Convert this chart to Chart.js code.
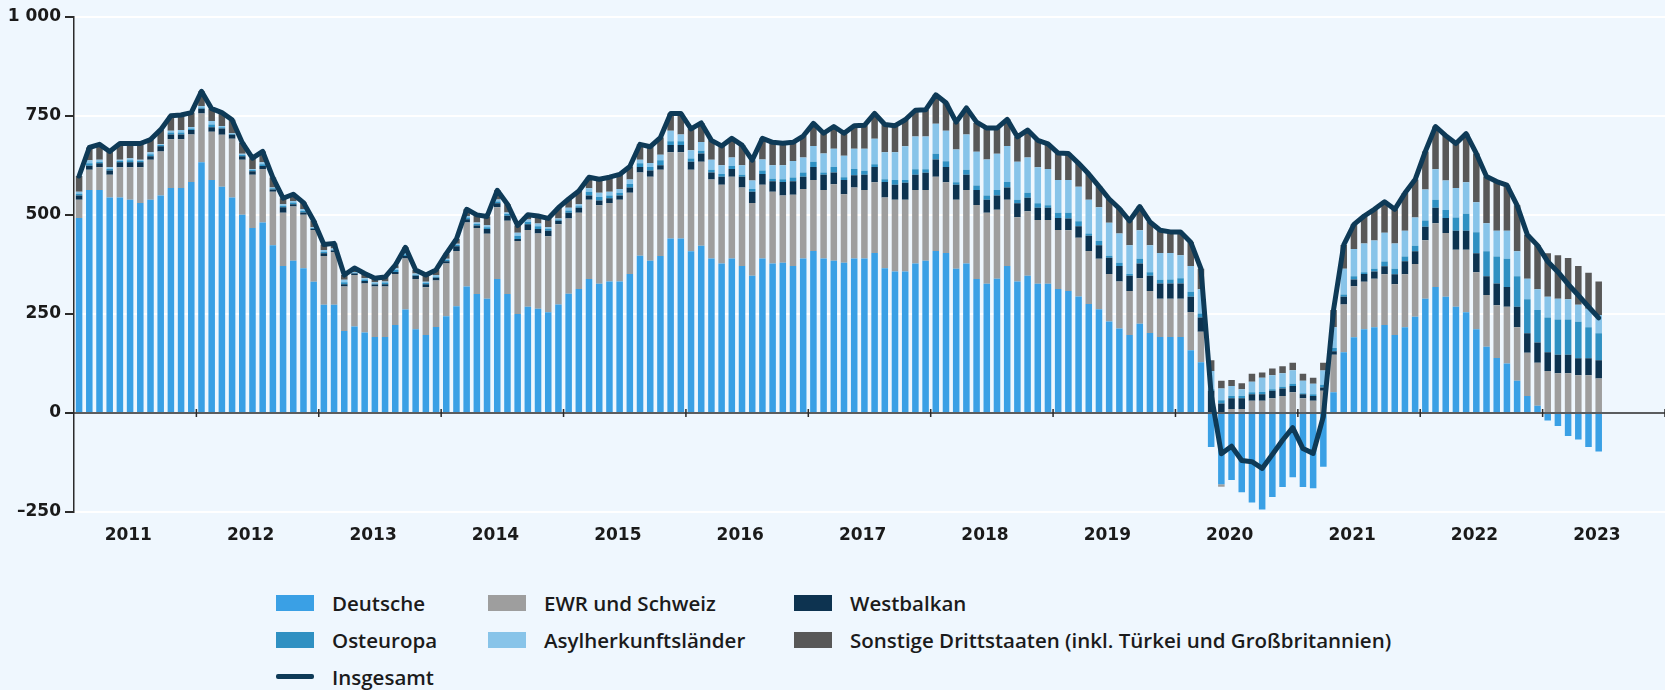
<!DOCTYPE html>
<html lang="de">
<head>
<meta charset="utf-8">
<title>Beschäftigung nach Staatsangehörigkeit</title>
<script src="https://cdn.jsdelivr.net/npm/chart.js@4/dist/chart.umd.min.js"></script>
<style>
  html, body { margin: 0; padding: 0; background: #eff7fe; }
  body { width: 1665px; height: 690px; overflow: hidden; position: relative; font-family: 'Open Sans', sans-serif; }
  #wrap { position: absolute; left: 0; top: 0; width: 1665px; height: 560px; }
  #legend { position: absolute; left: 276px; top: 584px; display: grid; grid-template-columns: 212px 306px auto; grid-auto-rows: 37px; }
  .item { display: flex; align-items: center; font-size: 20.5px; font-weight: 600; color: #1b1b1b; white-space: nowrap; }
  .swatch { width: 38px; height: 16px; margin-right: 18px; flex: none; }
  .swatch.line { height: 5px; border-radius: 2px; }
</style>
</head>
<body>
<div id="wrap"><canvas id="chart"></canvas></div>
<div id="legend"></div>
<script>
// Jahre auf der x-Achse (monatliche Werte, Jan 2011 bis Jun 2023)
const years = ['2011', '2012', '2013', '2014', '2015', '2016', '2017', '2018', '2019', '2020', '2021', '2022', '2023'];

const deutsche = [
  492, 563, 563, 544, 544, 538, 530, 538, 549, 568, 568, 583,
  633, 588, 571, 544, 500, 467, 481, 423, 371, 384, 365, 331,
  273, 273, 207, 218, 203, 192, 192, 222, 261, 211, 197, 217,
  244, 269, 319, 300, 288, 338, 300, 250, 268, 263, 254, 274,
  301, 313, 338, 326, 332, 332, 351, 397, 384, 396, 440, 440,
  408, 422, 390, 377, 390, 371, 346, 390, 377, 379, 371, 390,
  409, 390, 384, 379, 390, 390, 404, 365, 357, 357, 377, 384,
  409, 404, 364, 377, 338, 326, 339, 371, 332, 346, 326, 326,
  313, 308, 294, 275, 262, 231, 213, 197, 225, 202, 192, 192,
  192, 158, 128, -86, -180, -169, -200, -226, -244, -212, -187, -162,
  -187, -190, -136, 52, 153, 191, 211, 216, 222, 197, 216, 243,
  288, 318, 293, 268, 254, 211, 167, 139, 125, 81, 43, 18,
  -19, -33, -58, -67, -86, -97
];

const ewr = [
  46, 51, 57, 57, 76, 82, 90, 101, 111, 123, 123, 120,
  123, 122, 131, 148, 139, 134, 135, 135, 134, 137, 135, 131,
  123, 133, 112, 130, 124, 127, 127, 129, 129, 127, 120, 117,
  133, 140, 162, 167, 164, 181, 185, 184, 194, 190, 192, 202,
  190, 192, 200, 198, 198, 206, 205, 210, 212, 218, 218, 218,
  206, 212, 199, 199, 206, 198, 184, 186, 181, 170, 180, 175,
  179, 173, 193, 173, 179, 173, 178, 179, 181, 181, 186, 179,
  187, 178, 174, 186, 187, 179, 174, 167, 162, 163, 161, 161,
  149, 153, 148, 134, 127, 120, 119, 111, 115, 106, 96, 96,
  96, 97, 77, 0, -6, 10, 10, 31, 31, 37, 43, 52,
  37, 31, 56, 95, 121, 129, 120, 123, 128, 128, 134, 133,
  148, 161, 161, 144, 158, 144, 131, 133, 143, 135, 109, 109,
  106, 100, 100, 95, 95, 87
];

const westbalkan = [
  11, 10, 10, 11, 13, 13, 13, 9, 13, 12, 12, 11,
  12, 11, 16, 10, 9, 9, 7, 6, 14, 6, 6, 3,
  7, 4, 6, 4, 6, 5, 6, 5, 6, 8, 8, 7,
  6, 12, 8, 6, 12, 10, 13, 5, 14, 11, 14, 9,
  14, 13, 11, 12, 12, 11, 13, 14, 16, 11, 18, 18,
  20, 21, 18, 20, 20, 27, 28, 27, 27, 34, 34, 31,
  33, 38, 30, 36, 31, 38, 39, 39, 38, 43, 38, 43,
  44, 39, 38, 38, 38, 33, 36, 31, 35, 34, 31, 31,
  30, 30, 29, 38, 34, 41, 39, 38, 37, 38, 39, 39,
  39, 38, 36, 56, 24, 27, 27, 16, 16, 19, 19, 16,
  10, 12, 8, 9, 19, 17, 20, 18, 20, 25, 33, 32,
  34, 39, 38, 48, 48, 48, 47, 55, 50, 52, 49, 51,
  47, 47, 47, 43, 43, 46
];

const osteuropa = [
  4, 6, 4, 4, 3, 5, 3, 5, 3, 5, 5, 4,
  3, 7, 3, 2, 3, 3, 5, 3, 4, 4, 4, 2,
  4, 2, 5, 2, 4, 3, 4, 5, 4, 3, 3, 3,
  3, 3, 4, 4, 5, 5, 4, 8, 6, 7, 5, 3,
  6, 4, 9, 9, 7, 7, 9, 9, 9, 13, 10, 10,
  8, 7, 7, 7, 7, 5, 7, 9, 6, 7, 9, 11,
  13, 6, 14, 7, 16, 10, 7, 7, 12, 7, 14, 9,
  14, 14, 6, 13, 11, 11, 14, 14, 9, 13, 11, 6,
  13, 14, 13, 6, 11, 5, 8, 5, 12, 9, 9, 10,
  13, 13, 10, 4, 8, 6, 6, 5, 6, 4, 4, 6,
  3, 4, 7, 8, 6, 8, 4, 7, 12, 14, 12, 14,
  16, 20, 20, 33, 43, 53, 63, 68, 71, 77, 86, 82,
  88, 89, 89, 92, 78, 68
];

const asyl = [
  5, 8, 5, 4, 3, 5, 3, 5, 2, 4, 6, 4,
  4, 9, 3, 2, 3, 3, 5, 2, 4, 4, 5, 2,
  4, 3, 6, 2, 3, 3, 3, 4, 4, 3, 3, 4,
  3, 3, 4, 4, 5, 5, 4, 8, 6, 7, 4, 3,
  7, 5, 9, 11, 9, 9, 11, 9, 10, 14, 26, 17,
  21, 22, 25, 22, 22, 24, 22, 28, 34, 35, 42, 38,
  40, 48, 46, 54, 51, 56, 64, 68, 70, 85, 83, 83,
  76, 77, 83, 89, 85, 91, 91, 91, 96, 89, 91, 92,
  83, 83, 87, 85, 85, 83, 74, 72, 72, 68, 68, 67,
  58, 65, 61, 46, 30, 25, 17, 27, 36, 35, 34, 34,
  31, 27, 36, 52, 65, 69, 73, 71, 73, 64, 65, 71,
  78, 77, 75, 75, 79, 76, 71, 65, 71, 63, 52, 52,
  52, 52, 51, 43, 47, 46
];

const sonstige = [
  40, 32, 39, 40, 41, 37, 41, 32, 37, 38, 38, 36,
  37, 31, 34, 34, 28, 27, 27, 25, 15, 17, 16, 16,
  14, 13, 12, 10, 12, 10, 11, 8, 14, 9, 17, 13,
  13, 12, 17, 19, 22, 23, 21, 18, 12, 19, 22, 27,
  22, 33, 28, 34, 37, 37, 33, 39, 41, 43, 44, 53,
  54, 48, 49, 49, 48, 51, 51, 53, 58, 56, 47, 54,
  57, 51, 56, 57, 58, 59, 64, 70, 67, 67, 66, 67,
  73, 71, 69, 67, 73, 79, 65, 67, 63, 69, 68, 63,
  68, 67, 59, 65, 53, 60, 63, 62, 60, 59, 57, 53,
  59, 60, 52, 27, 19, 15, 15, 20, 13, 17, 18, 19,
  18, 15, 20, 44, 60, 62, 69, 79, 78, 86, 95, 96,
  96, 108, 113, 112, 123, 123, 118, 124, 115, 116, 111, 111,
  110, 110, 104, 98, 91, 85
];

const insgesamt = [
  598, 670, 678, 660, 680, 680, 680, 690, 715, 750, 752, 758,
  812, 768, 758, 740, 682, 643, 660, 594, 542, 552, 531, 485,
  425, 428, 348, 366, 352, 340, 343, 373, 418, 361, 348, 361,
  402, 439, 514, 500, 496, 562, 527, 473, 500, 497, 491, 518,
  540, 560, 595, 590, 595, 602, 622, 678, 672, 695, 756, 756,
  717, 732, 688, 674, 693, 676, 638, 693, 683, 681, 683, 699,
  731, 706, 723, 706, 725, 726, 756, 728, 725, 740, 764, 765,
  803, 783, 734, 770, 734, 719, 719, 741, 697, 714, 688, 679,
  656, 655, 630, 603, 572, 540, 516, 485, 521, 482, 461, 457,
  457, 431, 364, 47, -103, -84, -120, -123, -140, -105, -69, -37,
  -90, -102, -9, 260, 424, 476, 497, 514, 533, 514, 555, 589,
  660, 723, 700, 680, 705, 655, 597, 584, 575, 524, 450, 423,
  382, 356, 325, 297, 268, 240
];

const seriesNames = ['Deutsche', 'EWR und Schweiz', 'Westbalkan', 'Osteuropa', 'Asylherkunftsländer',
  'Sonstige Drittstaaten (inkl. Türkei und Großbritannien)'];
const seriesColors = ['#3aa0e5', '#9e9e9e', '#0d3350', '#2f90c2', '#88c4e9', '#585858'];
const seriesData = [deutsche, ewr, westbalkan, osteuropa, asyl, sonstige];
const lineName = 'Insgesamt';
const lineColor = '#0e3a57';

const months = [];
years.forEach(y => {
  for (let m = 1; m <= 12; m++) months.push(y + '-' + String(m).padStart(2, '0'));
});

const fmt = v => {
  const s = String(Math.abs(v)).replace(/\B(?=(\d{3})+(?!\d))/g, ' ');
  return v < 0 ? '–' + s : s;
};

// Nulllinie mit Jahresstrichen, über den Balken, unter der Linie
const zeroLine = {
  id: 'zeroLine',
  beforeDatasetDraw(chart, args) {
    if (args.meta.type !== 'line') return;
    const { ctx, chartArea, scales: { x, y } } = chart;
    const y0 = y.getPixelForValue(0);
    const half = (x.getPixelForValue(1) - x.getPixelForValue(0)) / 2;
    ctx.save();
    ctx.strokeStyle = '#2b2b2b';
    ctx.lineWidth = 1.5;
    ctx.beginPath();
    ctx.moveTo(chartArea.left, y0);
    ctx.lineTo(chartArea.right, y0);
    for (let i = 12; i <= months.length; i += 12) {
      const px = x.getPixelForValue(i - 1) + half;
      ctx.moveTo(px, y0 - 4);
      ctx.lineTo(px, y0 + 4);
    }
    ctx.stroke();
    ctx.restore();
  }
};

new Chart(document.getElementById('chart'), {
  type: 'bar',
  data: {
    labels: months,
    datasets: [
      {
        type: 'line',
        label: lineName,
        data: insgesamt,
        stack: 'total',
        order: 0,
        borderColor: lineColor,
        backgroundColor: lineColor,
        borderWidth: 5,
        pointRadius: 0,
        tension: 0,
        borderJoinStyle: 'round',
        borderCapStyle: 'round',
      },
      ...seriesNames.map((name, i) => ({
        label: name,
        data: seriesData[i],
        backgroundColor: seriesColors[i],
        stack: 'parts',
        order: 1,
        categoryPercentage: 1,
        barPercentage: 0.64,
      })),
    ],
  },
  options: {
    responsive: true,
    maintainAspectRatio: false,
    animation: false,
    layout: { padding: 0 },
    plugins: { legend: { display: false }, tooltip: { enabled: false } },
    scales: {
      x: {
        stacked: true,
        grid: { display: false, drawTicks: false },
        border: { display: false },
        ticks: {
          autoSkip: false,
          maxRotation: 0,
          padding: 0,
          labelOffset: -12,
          color: '#1a1a1a',
          font: { family: 'DejaVu Sans', weight: 'bold', size: 17, lineHeight: '48px' },
          callback: (v, i) => (i % 12 === 6 ? years[Math.floor(i / 12)] : ''),
        },
      },
      y: {
        stacked: true,
        min: -250,
        max: 1000,
        afterFit: s => { s.width = 74; },
        ticks: {
          stepSize: 250,
          padding: 4,
          color: '#1a1a1a',
          font: { family: 'DejaVu Sans', weight: 'bold', size: 17, lineHeight: '25.5px' },
          callback: v => fmt(v),
        },
        grid: {
          color: c => (c.tick && c.tick.value === 0 ? 'rgba(0,0,0,0)' : '#ffffff'),
          lineWidth: 2,
          tickColor: '#2b2b2b',
          tickLength: 9,
        },
        border: { display: true, color: '#2b2b2b', width: 1.5 },
      },
    },
  },
  plugins: [zeroLine],
});

// Legende
const legend = document.getElementById('legend');
seriesNames.concat([lineName]).forEach((name, i) => {
  const item = document.createElement('div');
  item.className = 'item';
  const sw = document.createElement('span');
  sw.className = i < seriesNames.length ? 'swatch' : 'swatch line';
  sw.style.background = i < seriesNames.length ? seriesColors[i] : lineColor;
  item.appendChild(sw);
  item.appendChild(document.createTextNode(name));
  legend.appendChild(item);
});
</script>
</body>
</html>
